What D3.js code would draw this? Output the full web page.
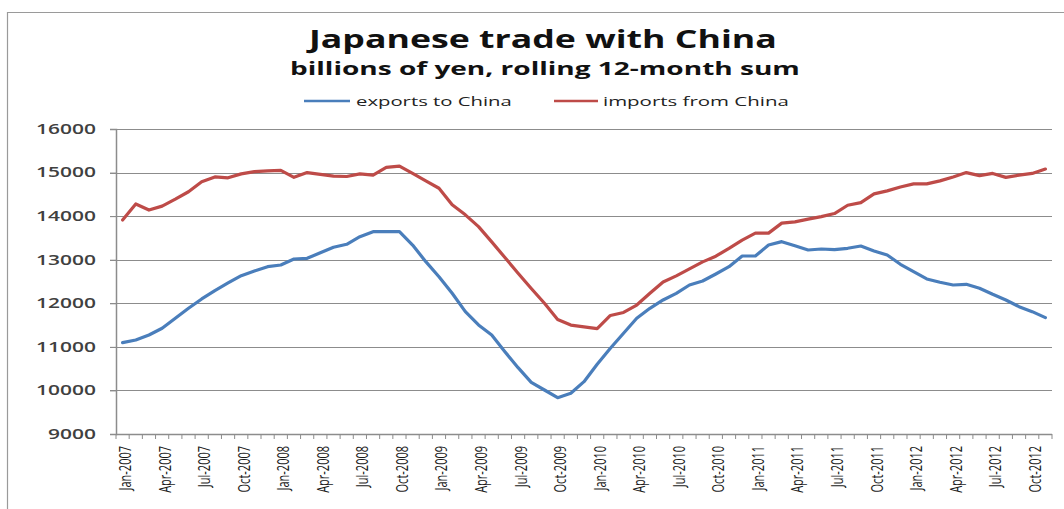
<!DOCTYPE html>
<html><head><meta charset="utf-8">
<script src="https://cdn.jsdelivr.net/npm/d3@7"></script>
<style>body{margin:0;background:#fff}svg{display:block}</style>
</head><body><svg id="c" width="1064" height="509"></svg>
<script>
const months = [
 "Jan-2007","Feb-2007","Mar-2007","Apr-2007","May-2007","Jun-2007","Jul-2007","Aug-2007","Sep-2007","Oct-2007","Nov-2007","Dec-2007",
 "Jan-2008","Feb-2008","Mar-2008","Apr-2008","May-2008","Jun-2008","Jul-2008","Aug-2008","Sep-2008","Oct-2008","Nov-2008","Dec-2008",
 "Jan-2009","Feb-2009","Mar-2009","Apr-2009","May-2009","Jun-2009","Jul-2009","Aug-2009","Sep-2009","Oct-2009","Nov-2009","Dec-2009",
 "Jan-2010","Feb-2010","Mar-2010","Apr-2010","May-2010","Jun-2010","Jul-2010","Aug-2010","Sep-2010","Oct-2010","Nov-2010","Dec-2010",
 "Jan-2011","Feb-2011","Mar-2011","Apr-2011","May-2011","Jun-2011","Jul-2011","Aug-2011","Sep-2011","Oct-2011","Nov-2011","Dec-2011",
 "Jan-2012","Feb-2012","Mar-2012","Apr-2012","May-2012","Jun-2012","Jul-2012","Aug-2012","Sep-2012","Oct-2012","Nov-2012"];
const exportsToChina = [
 11096,11157,11272,11426,11656,11885,12099,12290,12466,12634,12741,12840,
 12879,13016,13032,13161,13285,13354,13528,13643,13643,13643,13337,12955,
 12610,12229,11808,11502,11272,10889,10522,10186,10010,9833,9934,10201,
 10600,10967,11312,11656,11885,12076,12229,12420,12512,12672,12840,13085,
 13085,13338,13414,13322,13223,13246,13231,13262,13315,13200,13108,12895,
 12726,12558,12482,12420,12436,12344,12206,12076,11922,11808,11670];
const importsFromChina = [
 13910,14280,14140,14230,14390,14560,14790,14900,14880,14970,15020,15040,
 15050,14890,15000,14960,14920,14910,14970,14940,15120,15150,14980,14810,
 14640,14260,14030,13760,13410,13050,12690,12340,12000,11630,11500,11460,
 11420,11720,11790,11960,12230,12490,12630,12790,12950,13080,13260,13450,
 13610,13610,13840,13870,13930,13990,14060,14250,14310,14510,14580,14670,
 14740,14740,14810,14900,15000,14930,14980,14890,14940,14980,15080];
const yTicks = [9000,10000,11000,12000,13000,14000,15000,16000];
const xTickLabels = months.filter((m,i)=>i%3===0);
const seriesNames = ["exports to China","imports from China"];
const titleText = "Japanese trade with China";
const subtitleText = "billions of yen, rolling 12-month sum";

const svg = d3.select("#c");
const FONT = "'Open Sans', sans-serif";
const colors = ["#4A7EBB","#BE4B48"];
const L=116, R=1052, T=129, B=434;

// chart frame
svg.append("path").attr("d","M7.5,509 V12.5 H1064").attr("fill","none").attr("stroke","#9a9a9a").attr("stroke-width",1.2);

const x = d3.scaleBand().domain(months).range([L,R]).padding(0);
const y = d3.scaleLinear().domain([9000,16000]).range([B,T]);
const cx = d => x(d)+x.bandwidth()/2;

// gridlines
svg.append("g").selectAll("line").data(yTicks.filter(v=>v>9000)).join("line")
  .attr("x1",L-6).attr("x2",R).attr("y1",d=>Math.round(y(d))+0.5).attr("y2",d=>Math.round(y(d))+0.5)
  .attr("stroke","#8c8c8c").attr("stroke-width",1);

// y axis
const yAx = svg.append("g").attr("transform",`translate(${L},0)`)
  .call(d3.axisLeft(y).tickValues(yTicks).tickSize(6).tickPadding(14).tickFormat(d3.format("d")));
yAx.select(".domain").attr("stroke","#8c8c8c").attr("stroke-width",1.5);
yAx.selectAll(".tick line").attr("stroke","#8c8c8c");
yAx.selectAll("text").attr("font-family",FONT).attr("font-size",13.5).attr("fill","#404040").attr("font-weight",600);
{
  const w = yAx.select(".tick text").node().getComputedTextLength();
  const s = 60/ (w*5/4);
  yAx.selectAll(".tick text").each(function(){
    const t=d3.select(this); const xx=+t.attr("x");
    t.attr("transform",`translate(${xx},0) scale(${s},1) translate(${-xx},0)`);
  });
}

// x axis
const xAx = svg.append("g").attr("transform",`translate(0,${B})`);
xAx.append("line").attr("x1",L).attr("x2",R).attr("y1",0.5).attr("y2",0.5).attr("stroke","#8c8c8c").attr("stroke-width",1.5);
xAx.selectAll("line.mt").data(d3.range(months.length+1)).join("line").attr("class","mt")
  .attr("x1",i=>L+i*x.bandwidth()).attr("x2",i=>L+i*x.bandwidth()).attr("y1",0).attr("y2",5)
  .attr("stroke","#8c8c8c");
xAx.selectAll("text").data(xTickLabels).join("text")
  .attr("transform",d=>`translate(${cx(d)+2},12) rotate(-90) scale(1,1.5)`)
  .attr("text-anchor","end").attr("dominant-baseline","central")
  .attr("font-family",FONT).attr("font-size",11).attr("fill","#1a1a1a")
  .text(d=>d);

// lines
const line = d3.line().x((d,i)=>cx(months[i])).y(d=>y(d));
[exportsToChina, importsFromChina].forEach((s,k)=>{
  svg.append("path").datum(s).attr("d",line).attr("fill","none")
    .attr("stroke",colors[k]).attr("stroke-width",3.2).attr("stroke-linejoin","round").attr("stroke-linecap","round");
});

function fitText(txt, xL, xR, base, size, weight, fill){
  const t = svg.append("text").attr("font-family",FONT).attr("font-size",size).attr("font-weight",weight)
    .attr("fill",fill).attr("x",0).attr("y",0).text(txt);
  const w = t.node().getComputedTextLength();
  const s = (xR-xL)/w;
  t.attr("transform",`translate(${xL},${base}) scale(${s},1)`);
  return t;
}
fitText(titleText, 309, 777, 48, 25, 700, "#111");
fitText(subtitleText, 290, 800, 75, 18, 700, "#111");

// legend
const leg = [{x1:304,x2:350,t1:356,t2:512},{x1:554,x2:598,t1:603,t2:789}];
leg.forEach((g,k)=>{
  svg.append("line").attr("x1",g.x1).attr("x2",g.x2).attr("y1",101).attr("y2",101)
    .attr("stroke",colors[k]).attr("stroke-width",2.5);
  fitText(seriesNames[k], g.t1, g.t2, 106, 13, 400, "#222");
});
</script></body></html>
